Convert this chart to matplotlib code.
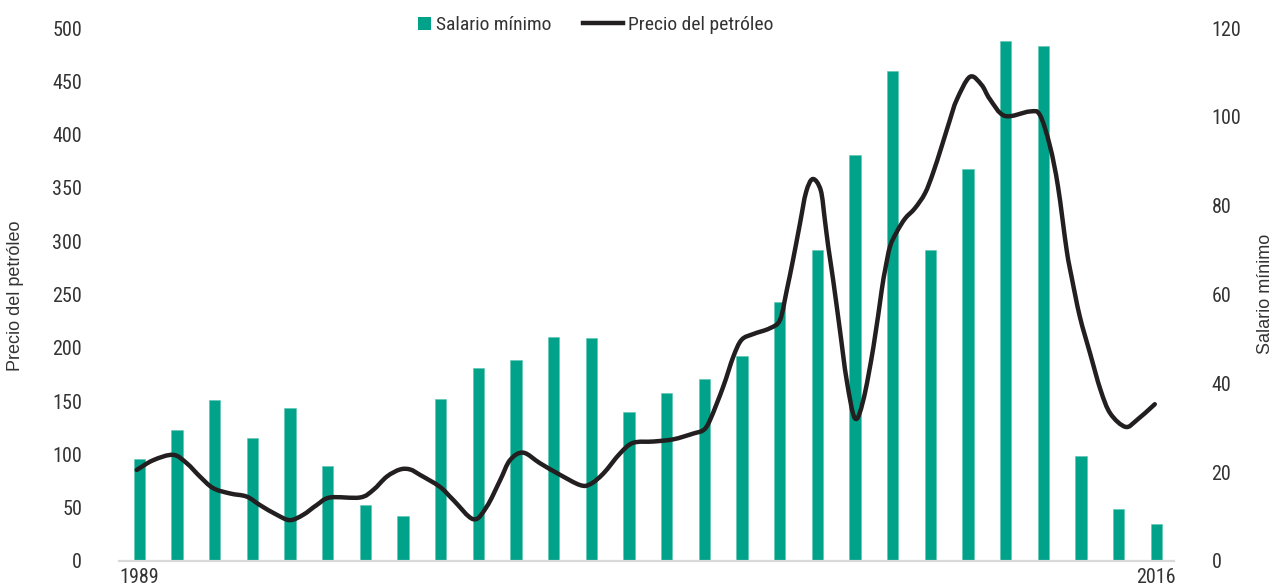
import matplotlib
matplotlib.use("Agg")
import matplotlib.pyplot as plt
import matplotlib.font_manager as fm
from matplotlib.patches import Rectangle, Patch, PathPatch
from matplotlib.path import Path
from matplotlib.lines import Line2D
from matplotlib.legend_handler import HandlerPatch
import numpy as np

# ---------------- data ----------------
years = list(range(1989, 2017))
salario_minimo = [95.7, 122.9, 151, 115.7, 143.8, 89.4, 52.5, 42.5, 151.7, 180.7,
                  188.9, 209.8, 208.9, 140, 157.3, 170.7, 192.6, 243.3, 291.7, 380.6,
                  460, 291.5, 367.7, 487.5, 482.8, 98.5, 48.5, 34.5]

oil_year = [1988.93, 1989.37, 1989.90, 1990.26, 1990.61, 1990.96, 1991.41, 1991.85,
            1992.20, 1992.65, 1993.00, 1993.35, 1993.71, 1994.06, 1994.86, 1995.21,
            1995.57, 1995.92, 1996.19, 1996.45, 1996.98, 1997.34, 1997.87, 1998.22,
            1998.58, 1998.84, 1999.19, 1999.64, 2000.17, 2000.70, 2000.97, 2001.32,
            2001.76, 2002.11, 2002.65, 2003.18, 2003.71, 2003.98, 2004.15, 2004.50,
            2004.77, 2004.99, 2005.30, 2005.74, 2006.01, 2006.19, 2006.36, 2006.54,
            2006.70, 2006.88, 2007.09, 2007.20, 2007.29, 2007.42, 2007.60, 2007.78,
            2008.00, 2008.22, 2008.49, 2008.71, 2008.80, 2008.93, 2009.11, 2009.33,
            2009.59, 2009.86, 2010.07, 2010.30, 2010.52, 2010.70, 2011.05, 2011.36,
            2011.58, 2011.98, 2012.64, 2012.91, 2013.18, 2013.39, 2013.62, 2013.75,
            2013.97, 2014.24, 2014.52, 2014.78, 2015.18, 2015.48, 2015.96]
oil_price = [20.5, 22.7, 23.9, 22.0, 19.0, 16.4, 15.2, 14.5,
             12.6, 10.4, 9.2, 10.4, 12.6, 14.3, 14.3, 16.0,
             19.0, 20.6, 20.6, 19.4, 16.7, 13.7, 9.4, 12.2,
             18.2, 22.7, 24.4, 22.0, 19.4, 17.1, 17.3, 19.7,
             24.2, 26.6, 26.9, 27.4, 28.7, 29.5, 31.7, 39.2,
             46.0, 49.8, 51.1, 52.4, 54.3, 61.0, 68.0, 76.0,
             83.0, 86.0, 83.5, 76.8, 70.8, 63.3, 52.0, 40.7,
             32.1, 36.2, 48.2, 61.0, 65.5, 70.8, 74.1, 77.1,
             79.4, 82.8, 87.3, 93.3, 99.3, 103.8, 109.0, 107.2,
             104.0, 100.2, 101.2, 100.4, 93.3, 84.3, 70.0, 64.0,
             55.0, 46.8, 38.5, 33.2, 30.2, 31.7, 35.3]

left_ticks = list(range(0, 501, 50))
right_ticks = list(range(0, 121, 20))
x_tick_labels = ["1989", "2016"]
series_names = ["Salario mínimo", "Precio del petróleo"]
left_label = "Precio del petróleo"
right_label = "Salario mínimo"

BAR_COLOR = "#00A38A"
LINE_COLOR = "#231F20"
TEXT_COLOR = "#333333"

# ---------------- fonts ----------------
def pick_condensed():
    prefs = ["Liberation Sans Narrow", "Roboto Condensed", "Open Sans Condensed",
             "Noto Sans Condensed", "DejaVu Sans Condensed"]
    entries = fm.fontManager.ttflist
    for p in prefs:
        for f in entries:
            if f.name == p and f.style == "normal" and f.weight in (400, "normal", "regular"):
                return fm.FontProperties(fname=f.fname)
    for f in entries:
        if f.stretch in ("condensed", "semi-condensed", "extra-condensed") and f.style == "normal" \
                and f.weight in (400, "normal", "regular"):
            return fm.FontProperties(fname=f.fname)
    return fm.FontProperties(family="DejaVu Sans")

cond = pick_condensed()
def cprop(size):
    p = cond.copy()
    p.set_size(size)
    return p

plt.rcParams["font.family"] = ["Liberation Sans", "DejaVu Sans"]

# ---------------- figure ----------------
W, H = 1276, 587
fig = plt.figure(figsize=(W / 100, H / 100), dpi=100)
ax = fig.add_axes([119 / W, 1 - 561 / H, (1174 - 119) / W, (561 - 28) / H])
ax2 = ax.twinx()

x = np.arange(len(years))
ax.bar(x, salario_minimo, width=0.30, color=BAR_COLOR, edgecolor="#5cc4b1",
       linewidth=0.4, zorder=2)
ax.set_ylim(0, 500)
ax.set_xlim(-0.54, len(years) - 1 + 0.47)
ax.set_yticks(left_ticks)
ax.set_xticks([0, len(years) - 1])
ax.set_xticklabels(x_tick_labels)

# smooth curve through the read points (cubic Bezier path, like a smoothed line)
P = np.column_stack([np.array(oil_year) - years[0], np.array(oil_price)])
T = np.zeros_like(P)
T[1:-1] = (P[2:] - P[:-2]) / 2.0
T[0] = P[1] - P[0]
T[-1] = P[-1] - P[-2]
verts = [P[0]]
codes = [Path.MOVETO]
for i in range(len(P) - 1):
    verts += [P[i] + T[i] / 3.0, P[i + 1] - T[i + 1] / 3.0, P[i + 1]]
    codes += [Path.CURVE4] * 3
curve = PathPatch(Path(verts, codes), facecolor="none", edgecolor=LINE_COLOR,
                  linewidth=3.2, joinstyle="round", capstyle="round", zorder=3)
ax2.add_patch(curve)
ax2.set_ylim(0, 120)
ax2.set_yticks(right_ticks)

for a in (ax, ax2):
    for s in a.spines.values():
        s.set_visible(False)
ax.spines["bottom"].set_visible(True)
ax.spines["bottom"].set_color("#d9d9d9")
ax.spines["bottom"].set_linewidth(1.6)

ax.tick_params(axis="y", length=0, pad=26.5, colors=TEXT_COLOR)
ax.tick_params(axis="x", length=0, pad=5, colors=TEXT_COLOR)
ax2.tick_params(axis="y", length=0, pad=27, colors=TEXT_COLOR)
for lbl in ax.get_yticklabels() + ax.get_xticklabels() + ax2.get_yticklabels():
    lbl.set_fontproperties(cprop(14.5))
for lbl in ax.get_yticklabels():
    lbl.set_horizontalalignment("right")
for lbl in ax2.get_yticklabels():
    lbl.set_horizontalalignment("left")

fig.text(16 / W, 1 - 296 / H, left_label, rotation=90, fontsize=13,
         color=TEXT_COLOR, ha="center", va="center")
fig.text(1266 / W, 1 - 294 / H, right_label, rotation=90, fontsize=13,
         color=TEXT_COLOR, ha="center", va="center")

# ---------------- legend ----------------
def square_patch(legend, orig_handle, xdescent, ydescent, width, height, fontsize):
    s = height * 0.95
    return Rectangle((-xdescent + width - s, -ydescent - (s - height) / 2), s, s)

handles = [Patch(facecolor=BAR_COLOR, edgecolor="none"),
           Line2D([], [], color=LINE_COLOR, linewidth=3.2)]
leg = fig.legend(handles, series_names, loc="center",
                 bbox_to_anchor=(582 / W, 1 - 25 / H), ncol=2, frameon=False,
                 prop=cprop(14), handlelength=2.05, handletextpad=0.25,
                 columnspacing=1.65,
                 handler_map={Patch: HandlerPatch(patch_func=square_patch)})
for t in leg.get_texts():
    t.set_color(TEXT_COLOR)

fig.savefig("out.png", dpi=100)
